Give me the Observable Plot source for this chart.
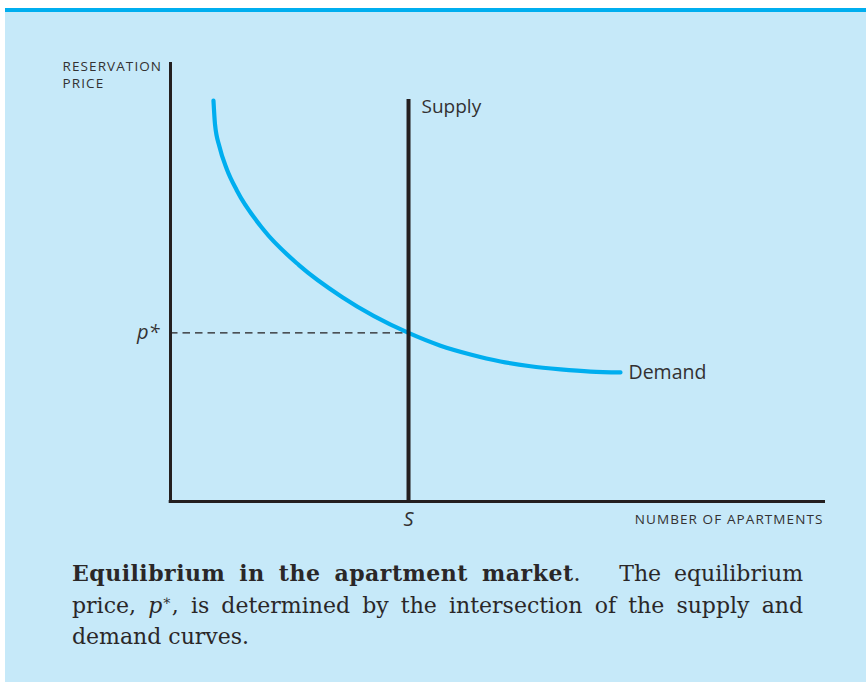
<!DOCTYPE html>
<html>
<head>
<meta charset="utf-8">
<script src="https://cdn.jsdelivr.net/npm/d3@7"></script>
<script src="https://cdn.jsdelivr.net/npm/@observablehq/plot@0.6"></script>
<style>
  html, body { margin: 0; padding: 0; background: #ffffff; }
  body { width: 866px; height: 682px; position: relative; overflow: hidden; }
  #panel { position: absolute; left: 5px; top: 8px; width: 861px; height: 674px;
           background: #c6e9f9; border-top: 4px solid #00aeef; box-sizing: border-box; }
  #chart { position: absolute; left: 0; top: 0; }
  #caption { position: absolute; left: 72px; top: 558px; width: 731px;
             font-family: "DejaVu Serif", serif; font-size: 22px; color: #2a2728; line-height: 31.5px; }
  #caption div { text-align: justify; text-align-last: justify; white-space: nowrap; }
  #caption div.last { text-align-last: left; }
  #caption b { font-weight: bold; letter-spacing: 0.5px; }
</style>
</head>
<body>
<div id="panel"></div>
<div id="chart"></div>
<div id="caption">
  <div><b>Equilibrium in the apartment market</b>.&nbsp;&nbsp; The equilibrium</div>
  <div>price, <i>p</i><sup style="font-size:14px;line-height:0">∗</sup>, is determined by the intersection of the supply and</div>
  <div class="last">demand curves.</div>
</div>
<script>
// Demand curve (quantity, reservation price), both on 0–100 axes
const demandQty   = [6.56, 6.79, 7.48, 8.60, 10.11, 14.21, 19.65, 26.18, 36.34, 41.22, 45.80, 50.38, 54.96, 59.54, 64.12, 68.70];
const demandPrice = [91.3, 86.0, 80.8, 75.7, 70.9, 61.9, 53.8, 46.6, 38.4, 35.5, 33.5, 31.9, 30.8, 30.1, 29.6, 29.4];
const supplyQty = [36.34];
const supplyTop = [91.6];
const pStar = [38.4];
const yTickLabels = ["p*"];
const xTickLabels = ["S"];
const curveLabels = ["Supply", "Demand"];
const axisTitles = ["RESERVATION\nPRICE", "NUMBER OF APARTMENTS"];

const demand = demandQty.map((q, i) => ({q, p: demandPrice[i]}));
const ink = "#231f20";
const labelInk = "#333132";
const sans = "'Open Sans', Lato, sans-serif";

const chart = Plot.plot({
  width: 866,
  height: 540,
  marginLeft: 170,
  marginRight: 41,
  marginTop: 62,
  marginBottom: 39,
  x: {domain: [0, 100], axis: null},
  y: {domain: [0, 100], axis: null},
  style: {background: "transparent", overflow: "visible"},
  marks: [
    // dashed equilibrium price line
    Plot.ruleY(pStar, {x1: 0, x2: supplyQty[0], y: d => d, stroke: ink, strokeWidth: 1.3, strokeDasharray: "7.5,5"}),
    // demand curve
    Plot.line(demand, {x: "q", y: "p", stroke: "#00aeef", strokeWidth: 4.2, curve: "monotone-x"}),
    // supply (vertical)
    Plot.ruleX(supplyQty, {x: d => d, y1: 0, y2: supplyTop[0], stroke: ink, strokeWidth: 4}),
    // axes
    Plot.ruleX([0], {y1: 0, y2: 100, stroke: ink, strokeWidth: 3}),
    Plot.ruleY([0], {x1: -0.2, x2: 100, stroke: ink, strokeWidth: 3}),
    // tick labels
    Plot.text(yTickLabels, {x: 0, y: pStar, text: d => d, textAnchor: "end", dx: -11, dy: 0, fontStyle: "italic", fontSize: 20, fontFamily: sans, fill: labelInk}),
    Plot.text(xTickLabels, {x: supplyQty, y: 0, text: d => d, textAnchor: "middle", dy: 18, fontStyle: "italic", fontSize: 20, fontFamily: sans, fill: labelInk}),
    // curve labels
    Plot.text([curveLabels[0]], {x: supplyQty, y: supplyTop, text: d => d, textAnchor: "start", dx: 13, dy: 8, fontSize: 19, fontFamily: sans, fill: labelInk}),
    Plot.text([curveLabels[1]], {x: [demandQty[demandQty.length - 1]], y: [demandPrice[demandPrice.length - 1]], text: d => d, textAnchor: "start", dx: 8, dy: 0, fontSize: 19.5, fontFamily: sans, fill: labelInk}),
    // axis titles
    Plot.text([axisTitles[0]], {x: 0, y: 100, text: d => d, textAnchor: "start", lineAnchor: "top", dx: -108, dy: -3, fontSize: 13.5, lineHeight: 1.22, fontFamily: sans, fill: labelInk}),
    Plot.text([axisTitles[1]], {x: 100, y: 0, text: d => d, textAnchor: "end", dx: -2, dy: 18, fontSize: 13.5, fontFamily: sans, fill: labelInk})
  ]
});
// widen the small-caps axis titles like the reference typeface
d3.select(chart).selectAll("text")
  .filter(function() { const t = this.textContent; return t.length > 3 && /^[A-Z ]+$/.test(t); })
  .style("letter-spacing", "1.1px");
document.getElementById("chart").appendChild(chart);
</script>
</body>
</html>
